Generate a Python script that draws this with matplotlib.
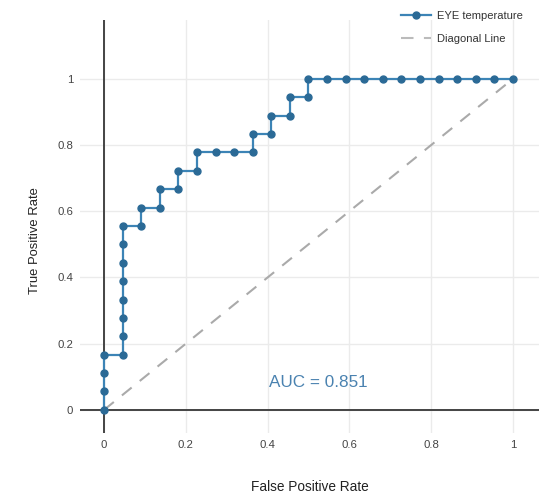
import matplotlib
matplotlib.use("Agg")
import matplotlib.pyplot as plt
from matplotlib.lines import Line2D

plt.rcParams['font.family'] = ['Liberation Sans', 'DejaVu Sans']

# ROC curve points (22 negatives, 18 positives)
fpr = [0.0, 0.0, 0.0, 0.0,
       0.0455, 0.0455, 0.0455, 0.0455, 0.0455, 0.0455, 0.0455, 0.0455,
       0.0909, 0.0909, 0.1364, 0.1364, 0.1818, 0.1818, 0.2273, 0.2273,
       0.2727, 0.3182, 0.3636, 0.3636, 0.4091, 0.4091, 0.4545, 0.4545,
       0.5, 0.5, 0.5455, 0.5909, 0.6364, 0.6818, 0.7273, 0.7727,
       0.8182, 0.8636, 0.9091, 0.9545, 1.0]
tpr = [0.0, 0.0556, 0.1111, 0.1667,
       0.1667, 0.2222, 0.2778, 0.3333, 0.3889, 0.4444, 0.5, 0.5556,
       0.5556, 0.6111, 0.6111, 0.6667, 0.6667, 0.7222, 0.7222, 0.7778,
       0.7778, 0.7778, 0.7778, 0.8333, 0.8333, 0.8889, 0.8889, 0.9444,
       0.9444, 1.0, 1.0, 1.0, 1.0, 1.0, 1.0, 1.0,
       1.0, 1.0, 1.0, 1.0, 1.0]
diag = [0.0, 1.0]
auc_value = 0.851
series_name = "EYE temperature"
diag_name = "Diagonal Line"
ticks = [0, 0.2, 0.4, 0.6, 0.8, 1]
tick_labels = ["0", "0.2", "0.4", "0.6", "0.8", "1"]

line_color = "#3c84b6"
marker_color = "#2b6a96"
grid_color = "#ebebeb"
zero_color = "#444444"
text_color = "#444444"

W, H = 540, 494
fig = plt.figure(figsize=(W / 100, H / 100), dpi=100)
fig.patch.set_facecolor("white")

left, right, top, bottom = 80, 539, 20, 433
ax = fig.add_axes([left / W, 1 - bottom / H, (right - left) / W, (bottom - top) / H])
ax.set_facecolor("white")

ax.set_xlim(-0.059, 1.064)
ax.set_ylim(-0.07, 1.178)

for s in ax.spines.values():
    s.set_visible(False)

ax.set_xticks(ticks)
ax.set_xticklabels(tick_labels)
ax.set_yticks(ticks)
ax.set_yticklabels(tick_labels)
ax.tick_params(length=0, labelsize=8.2, colors=text_color, pad=5)
ax.grid(True, color=grid_color, linewidth=1)
ax.set_axisbelow(True)

ax.axhline(0, color=zero_color, linewidth=1.4, zorder=1)
ax.axvline(0, color=zero_color, linewidth=1.4, zorder=1)

ax.plot(diag, diag, color="#aaaaaa", linewidth=1.5, dashes=(6, 5), zorder=2)
ax.plot(fpr, tpr, color=line_color, linewidth=1.6, marker="o", markersize=5.0,
        markerfacecolor=marker_color, markeredgecolor=marker_color, zorder=3)

ax.text(0.523, 0.082, f"AUC = {auc_value:.3f}", color="#4a82b0", fontsize=12.3,
        ha="center", va="center")

ax.set_xlabel("False Positive Rate", fontsize=9.8, color="#222222", labelpad=21.5)
ax.set_ylabel("True Positive Rate", fontsize=9.4, color="#222222")
ax.yaxis.set_label_coords(-0.085, 0.467)

handles = [
    Line2D([], [], color=line_color, linewidth=1.6, marker="o", markersize=5.0,
           markerfacecolor=marker_color, markeredgecolor=marker_color),
    Line2D([], [], color="#bbbbbb", linewidth=1.5, dashes=(6, 5)),
]
fig.legend(handles, [series_name, diag_name], loc="upper left",
           bbox_to_anchor=(399 / W, 1 - 9 / H), frameon=False, fontsize=8,
           handlelength=2.7, handletextpad=0.5, labelspacing=1.15,
           labelcolor="#333333", borderaxespad=0, borderpad=0.2)

fig.savefig("out.png", dpi=100, facecolor="white")
